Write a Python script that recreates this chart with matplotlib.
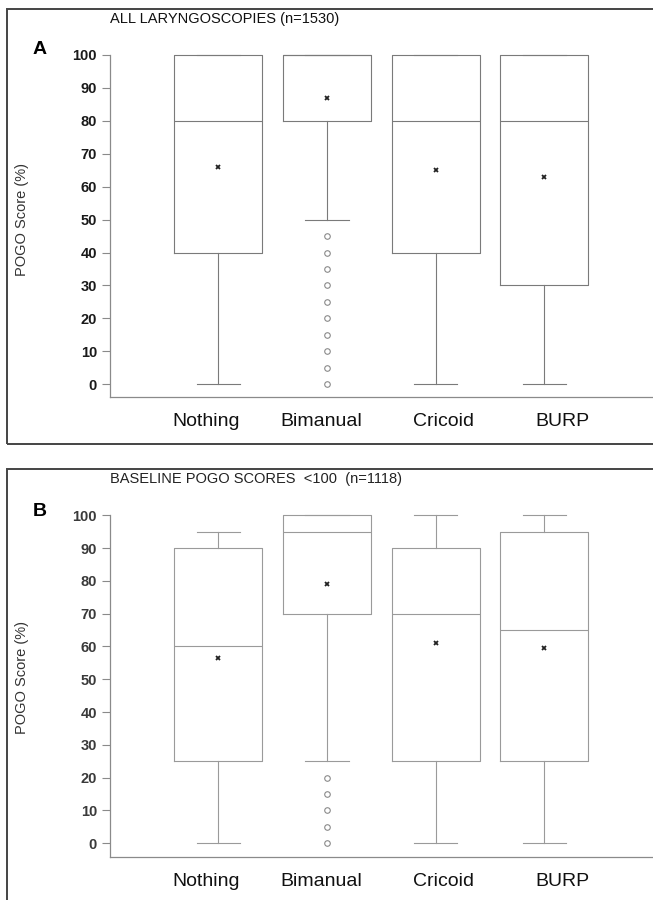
import matplotlib.pyplot as plt
import matplotlib.patches as patches

plt.rcParams['font.family'] = ['Liberation Sans', 'DejaVu Sans']

groups = ["Nothing", "Bimanual", "Cricoid", "BURP"]

# panel A - all laryngoscopies (n=1530)
a_whislo = [0, 50, 0, 0]
a_q1 = [40, 80, 40, 30]
a_med = [80, 100, 80, 80]
a_q3 = [100, 100, 100, 100]
a_whishi = [100, 100, 100, 100]
a_mean = [66, 87, 65, 63]
a_fliers = [[], [0, 5, 10, 15, 20, 25, 30, 35, 40, 45], [], []]

# panel B - baseline POGO < 100 (n=1118)
b_whislo = [0, 25, 0, 0]
b_q1 = [25, 70, 25, 25]
b_med = [60, 95, 70, 65]
b_q3 = [90, 100, 90, 95]
b_whishi = [95, 100, 100, 100]
b_mean = [56.5, 79, 61, 59.5]
b_fliers = [[], [0, 5, 10, 15, 20], [], []]

yticks = [0, 10, 20, 30, 40, 50, 60, 70, 80, 90, 100]

W, H = 653, 900
fig = plt.figure(figsize=(W / 100, H / 100), dpi=100)

# label positions were set by hand in the original, a bit off the boxes
label_x = [0.89, 1.95, 3.07, 4.17]


def panel(rect, whislo, q1, med, q3, whishi, mean, fliers, ymin, tickcol, linecol):
    ax = fig.add_axes(rect)
    stats = []
    for i, g in enumerate(groups):
        stats.append(dict(label=g, whislo=whislo[i], q1=q1[i], med=med[i],
                          q3=q3[i], whishi=whishi[i], mean=mean[i],
                          fliers=fliers[i]))
    lp = dict(color=linecol, linewidth=0.8)
    ax.bxp(stats, positions=[1, 2, 3, 4], widths=0.81, capwidths=0.4,
           showmeans=True, patch_artist=False,
           boxprops=lp, whiskerprops=lp, capprops=lp, medianprops=lp,
           meanprops=dict(marker='x', markersize=3.5, markeredgewidth=1.3,
                          markeredgecolor='#222222', linestyle='none'),
           flierprops=dict(marker='o', markersize=4, markerfacecolor='none',
                           markeredgecolor='#8a8a8a', markeredgewidth=0.8,
                           linestyle='none'))
    ax.set_xlim(0, 5)
    ax.set_ylim(ymin, 101)
    for s in ['top', 'right']:
        ax.spines[s].set_visible(False)
    ax.spines['left'].set_bounds(ymin, 100)
    for s in ['left', 'bottom']:
        ax.spines[s].set_color('#8a8a8a')
        ax.spines[s].set_linewidth(0.9)
    ax.set_yticks(yticks)
    ax.set_yticklabels([str(t) for t in yticks], fontsize=10.5,
                       fontweight='bold', color=tickcol)
    ax.tick_params(axis='y', length=6, width=0.8, color='#8a8a8a', pad=3)
    ax.set_xticks(label_x)
    ax.set_xticklabels(groups, fontsize=14, color='#111111')
    ax.tick_params(axis='x', length=0, pad=12)
    ax.set_ylabel("POGO Score (%)", fontsize=10.5, color='#333333')
    ax.patch.set_alpha(0)
    return ax


def frac(px_left, px_top, px_right, px_bottom):
    return [px_left / W, 1 - px_bottom / H, (px_right - px_left) / W,
            (px_bottom - px_top) / H]


ax_a = panel(frac(109.6, 51.7, 653, 396.7), a_whislo, a_q1, a_med, a_q3,
             a_whishi, a_mean, a_fliers, -3.77, '#1a1a1a', '#7a7a7a')
ax_a.yaxis.set_label_coords(-0.148, 0.515)

ax_b = panel(frac(109.6, 512, 653, 856.7), b_whislo, b_q1, b_med, b_q3,
             b_whishi, b_mean, b_fliers, -4.09, '#3a3a3a', '#9a9a9a')
ax_b.yaxis.set_label_coords(-0.148, 0.52)

# outer frames
fig.add_artist(patches.Rectangle((7 / W, 1 - 444.5 / H), 1, (444.5 - 9) / H,
                                 transform=fig.transFigure, fill=False,
                                 edgecolor='#444444', linewidth=1.4))
fig.add_artist(patches.Rectangle((7 / W, -0.05), 1, 1 - 469 / H + 0.05,
                                 transform=fig.transFigure, fill=False,
                                 edgecolor='#444444', linewidth=1.4))

fig.text(109.6 / W, 1 - 19 / H, "ALL LARYNGOSCOPIES (n=1530)", fontsize=10.5,
         va='center', ha='left', color='#111111')
fig.text(40 / W, 1 - 50 / H, "A", fontsize=14, fontweight='bold',
         va='center', ha='center')
fig.text(109.6 / W, 1 - 479 / H, "BASELINE POGO SCORES  <100  (n=1118)",
         fontsize=10.5, va='center', ha='left', color='#222222')
fig.text(40 / W, 1 - 511 / H, "B", fontsize=14, fontweight='bold',
         va='center', ha='center')

fig.savefig("out.png", dpi=100)
